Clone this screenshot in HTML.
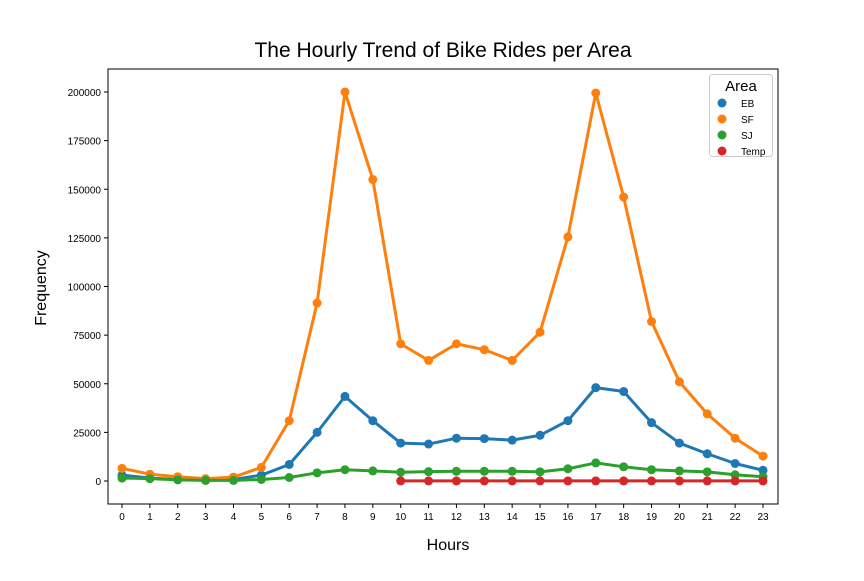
<!DOCTYPE html>
<html><head><meta charset="utf-8"><style>
body{margin:0;background:#fff;}
svg text{font-family:"Liberation Sans","DejaVu Sans",sans-serif;}
</style></head><body>
<svg id="chart" width="864" height="576" xmlns="http://www.w3.org/2000/svg">
<rect width="864" height="576" fill="#fff"/>
<text x="443" y="57" font-size="21" text-anchor="middle" fill="#000">The Hourly Trend of Bike Rides per Area</text>
<text x="448" y="550" font-size="16" text-anchor="middle">Hours</text>
<text x="46" y="288" font-size="16" text-anchor="middle" transform="rotate(-90 46 288)">Frequency</text>
<g id="ticks"></g>
<g id="marks"></g>
<rect x="108" y="69" width="670" height="435" fill="none" stroke="#000" stroke-width="1"/>
<g>
<rect x="709.5" y="74.5" width="63" height="82" rx="3" fill="#fff" fill-opacity="0.8" stroke="#ccc"/>
<text x="741" y="91" font-size="15" text-anchor="middle">Area</text>
<g id="legend-items"></g>
</g>
</svg>
<script>
const hours=["0","1","2","3","4","5","6","7","8","9","10","11","12","13","14","15","16","17","18","19","20","21","22","23"];
const yTicks=[0,25000,50000,75000,100000,125000,150000,175000,200000];
const areas=["EB","SF","SJ","Temp"];
const colors=["#1f77b4","#ff7f0e","#2ca02c","#d62728"];
const ebValues=[3000,1500,800,400,800,3000,8500,25000,43500,31000,19500,19000,22000,21800,21000,23500,31000,48000,46000,30000,19500,14000,9000,5500];
const sfValues=[6500,3500,2200,1200,2000,7000,31000,91500,200000,155000,70500,62000,70500,67500,62000,76500,125500,199500,146000,82000,51000,34500,22000,12800];
const sjValues=[1500,1200,600,300,300,800,1800,4200,5800,5200,4500,4800,5000,5000,5000,4700,6300,9300,7300,5800,5200,4700,3200,2200];
const tempHours=[10,11,12,13,14,15,16,17,18,19,20,21,22,23];
const tempValues=[60,60,60,60,60,60,60,60,60,60,60,60,60,60];
const NS="http://www.w3.org/2000/svg";
function xPos(i){return 122+i*(763-122)/23;}
function yPos(v){return 481-v*(481-92)/200000;}
function mk(tag,attrs,parent){const e=document.createElementNS(NS,tag);for(const k in attrs)e.setAttribute(k,attrs[k]);parent.appendChild(e);return e;}
const tg=document.getElementById('ticks');
yTicks.forEach(v=>{
  const l=mk('line',{x1:104,x2:108,y1:yPos(v),y2:yPos(v),stroke:'#000'},tg);
  
  
  const t=mk('text',{x:101,y:yPos(v)+4,'font-size':10,'text-anchor':'end'},tg);
  t.textContent=v;
  
  
});
hours.forEach((h,i)=>{
  const l=mk('line',{x1:xPos(i),x2:xPos(i),y1:504,y2:508,stroke:'#000'},tg);
  
  
  const t=mk('text',{x:xPos(i),y:520,'font-size':10,'text-anchor':'middle'},tg);
  t.textContent=h;
  
  
});
const mg=document.getElementById('marks');
const series=[
 {name:'eb',idx:hours.map((h,i)=>i),vals:ebValues,c:colors[0]},
 {name:'sf',idx:hours.map((h,i)=>i),vals:sfValues,c:colors[1]},
 {name:'sj',idx:hours.map((h,i)=>i),vals:sjValues,c:colors[2]},
 {name:'temp',idx:tempHours,vals:tempValues,c:colors[3]}];
series.forEach(s=>{
  const pts=s.vals.map((v,k)=>xPos(s.idx[k])+','+yPos(v)).join(' ');
  const pl=mk('polyline',{points:pts,fill:'none',stroke:s.c,'stroke-width':3,'stroke-linejoin':'round'},mg);
  
  
  s.vals.forEach((v,k)=>{
    const c=mk('circle',{cx:xPos(s.idx[k]),cy:yPos(v),r:4.5,fill:s.c},mg);
    
    
  });
});
const lg=document.getElementById('legend-items');
areas.forEach((a,i)=>{
  const y=103+i*16;
  const c=mk('circle',{cx:722,cy:y,r:4.5,fill:colors[i]},lg);
  
  
  const t=mk('text',{x:741,y:y+4,'font-size':10},lg);
  t.textContent=a;
  
  
});
</script>
</body></html>
